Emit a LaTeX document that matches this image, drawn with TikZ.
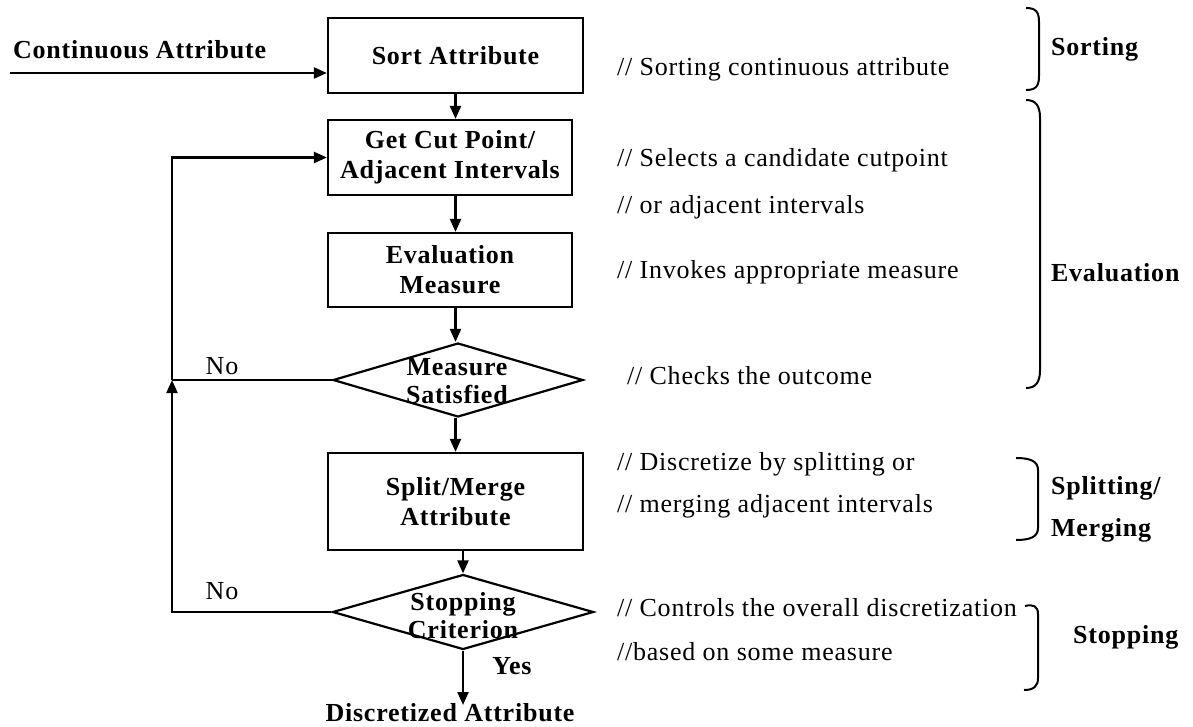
\documentclass[tikz,border=0pt]{standalone}
\usepackage{fontspec}
\setmainfont{Liberation Serif}[LetterSpace=3.0]
\usetikzlibrary{arrows.meta,shapes.geometric}
\begin{document}
\begin{tikzpicture}[x=1pt,y=-1pt,line width=2.2pt,
  box/.style={draw,rectangle,inner sep=0pt,align=center,font=\fontsize{26}{30}\selectfont\bfseries},
  dia/.style={draw,diamond,inner sep=0pt},
  dtext/.style={inner sep=0pt,align=center,font=\fontsize{26}{28}\selectfont\bfseries},
  btext/.style={inner sep=0pt,font=\fontsize{26}{28}\selectfont\bfseries},
  cmt/.style={inner sep=0pt,anchor=west,font=\fontsize{26}{28}\selectfont},
  lbl/.style={inner sep=0pt,font=\fontsize{26}{28}\selectfont},
  arr/.style={-{Triangle[length=13pt,width=11pt]}},
  brace/.style={line width=2pt}]
\useasboundingbox (0,0) rectangle (1193,726);
% main boxes
\node[box,minimum width=255pt,minimum height=75pt] (sort) at (455.5,55.5) {Sort Attribute};
\node[box,minimum width=244pt,minimum height=75pt] (get) at (450,157.5) {Get Cut Point/\\Adjacent Intervals};
\node[box,minimum width=244pt,minimum height=74pt] (eval) at (450,270) {Evaluation\\Measure};
\node[dia,minimum width=250pt,minimum height=74pt] (d1) at (458,380) {};
\node[dtext] (d1t) at (457,381) {Measure\\Satisfied};
\node[box,minimum width=255pt,minimum height=97pt] (split) at (455.5,501.5) {Split/Merge\\Attribute};
\node[dia,minimum width=261pt,minimum height=75pt] (d2) at (463,612) {};
\node[dtext] (d2t) at (463,616) {Stopping\\Criterion};
\node[btext] (out) at (450,713) {Discretized Attribute};
\node[btext,anchor=west] (cont) at (12,50) {Continuous Attribute};
\node[lbl] (no1) at (222,366) {No};
\node[lbl] (no2) at (222,591) {No};
\node[btext] (yes) at (512,666) {Yes};
% connectors
\coordinate (cin) at (10,73);
\draw[arr] (cin) -- (cin -| sort.west);
\draw[arr] (sort.south) -- (sort.south |- get.north);
\draw[arr] (sort.south |- get.south) -- (sort.south |- eval.north);
\draw[arr] (sort.south |- eval.south) -- (sort.south |- d1.north);
\draw[arr] (sort.south |- d1.south) -- (sort.south |- split.north);
\draw[arr] (d2.north |- split.south) -- (d2.north);
\coordinate (outtip) at (463,705);
\draw[arr] (d2.south) -- (outtip);
\coordinate (fb) at (172,380);
\draw (d1.west) -- (fb);
\draw[arr] (d2.west) -| (fb);
\draw[arr] (fb) |- (get.west);
% comments
\node[cmt] (c1) at (616,69) {// Sorting continuous attribute};
\node[cmt] (c2) at (616,160) {// Selects a candidate cutpoint};
\node[cmt] (c3) at (616,207) {// or adjacent intervals};
\node[cmt] (c4) at (616,272) {// Invokes appropriate measure};
\node[cmt] (c5) at (626,376) {// Checks the outcome};
\node[cmt] (c6) at (616,464) {// Discretize by splitting or};
\node[cmt] (c7) at (616,506) {// merging adjacent intervals};
\node[cmt] (c8) at (616,608) {// Controls the overall discretization};
\node[cmt] (c9) at (616,652) {//based on some measure};
% braces
\draw[brace] (1026,8) .. controls (1036,8) and (1039,12) .. (1039,22) -- (1039,76) .. controls (1039,86) and (1036,90) .. (1026,90);
\draw[brace] (1026,100) .. controls (1036,100) and (1040,106) .. (1040,118) -- (1040,370) .. controls (1040,382) and (1036,388) .. (1026,388);
\draw[brace] (1016,458) .. controls (1030,458) and (1038,461) .. (1038,470) -- (1038,528) .. controls (1038,537) and (1030,540) .. (1016,540);
\draw[brace] (1025,606) .. controls (1033,604) and (1038,606) .. (1038,614) -- (1038,678) .. controls (1038,686) and (1034,690) .. (1024,690);
% brace labels
\node[btext,anchor=west] (bs) at (1050,49) {Sorting};
\node[btext,anchor=west] (be) at (1050,273) {Evaluation};
\node[btext,anchor=west] (bm1) at (1050,488) {Splitting/};
\node[btext,anchor=west] (bm2) at (1050,530) {Merging};
\node[btext,anchor=west] (bp) at (1072,637) {Stopping};
\end{tikzpicture}
\end{document}
